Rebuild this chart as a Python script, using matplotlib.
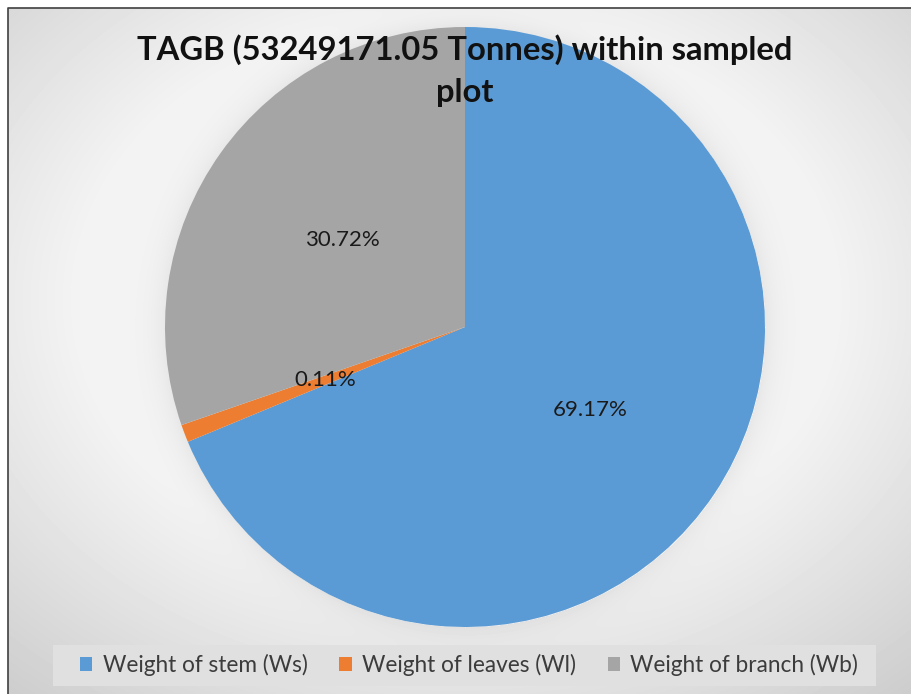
import matplotlib.pyplot as plt
import numpy as np
from matplotlib.patches import Patch, Rectangle

plt.rcParams['font.family'] = ['Lato', 'DejaVu Sans']

# data
parts = ["Weight of stem (Ws)", "Weight of leaves (Wl)", "Weight of branch (Wb)"]
shares = [68.75, 0.95, 30.3]          # wedge sizes as drawn
pct_labels = ["69.17%", "0.11%", "30.72%"]   # labels as printed
colors = ["#5B9BD5", "#ED7D31", "#A5A5A5"]
title = "TAGB (53249171.05 Tonnes) within sampled\nplot"

W, H = 912, 694
fig = plt.figure(figsize=(W / 100, H / 100), dpi=100)

# background: soft radial gradient with a faint halo round the pie
bg = fig.add_axes([0, 0, 1, 1])
yy, xx = np.mgrid[0:H, 0:W]
r = np.sqrt(((xx - 456) / 456) ** 2 + ((yy - 300) / 347) ** 2)
val = np.clip(1.137 - 0.222 * r, 0.0, 0.955)
d = np.sqrt((xx - 465) ** 2 + (yy - 327) ** 2)
halo = np.where(d > 300, np.exp(-(d - 300) / 14.0), 0.0)
val = val - 0.05 * halo
val[:8, :] = 1.0
val[:, :8] = 1.0
bg.imshow(val, cmap="gray", vmin=0, vmax=1, extent=[0, W, H, 0],
          interpolation="bilinear", aspect="auto")
bg.plot([8, 8, W], [H, 8, 8], color="#404040", lw=1.2)
bg.add_patch(Rectangle((53, 645), 823, 41, facecolor="#e0e0e0", edgecolor="none"))
bg.set_xlim(0, W)
bg.set_ylim(H, 0)
bg.axis("off")

# pie
ax = fig.add_axes([165 / W, 1 - 627 / H, 600 / W, 600 / H])
lab_iter = iter(pct_labels)
ax.pie(shares, colors=colors, startangle=90, counterclock=False,
       autopct=lambda p: next(lab_iter), pctdistance=0.5,
       textprops={"fontsize": 16, "color": "#1a1a1a"},
       wedgeprops={"linewidth": 0})
ax.set_xlim(-1, 1)
ax.set_ylim(-1, 1)
ax.axis("off")

fig.text(465 / W, 1 - 70.5 / H, title, ha="center", va="center",
         fontsize=23.6, fontweight="bold", color="#111111", linespacing=1.55)

handles = [Patch(facecolor=c, edgecolor="none") for c in colors]
fig.legend(handles, parts, loc="center", bbox_to_anchor=(469 / W, 1 - 665 / H),
           ncol=3, frameon=False, fontsize=16.3, handlelength=0.55,
           handleheight=0.55, handletextpad=0.45, columnspacing=1.4,
           labelcolor="#3c3c3c")

fig.savefig("out.png", dpi=100)
